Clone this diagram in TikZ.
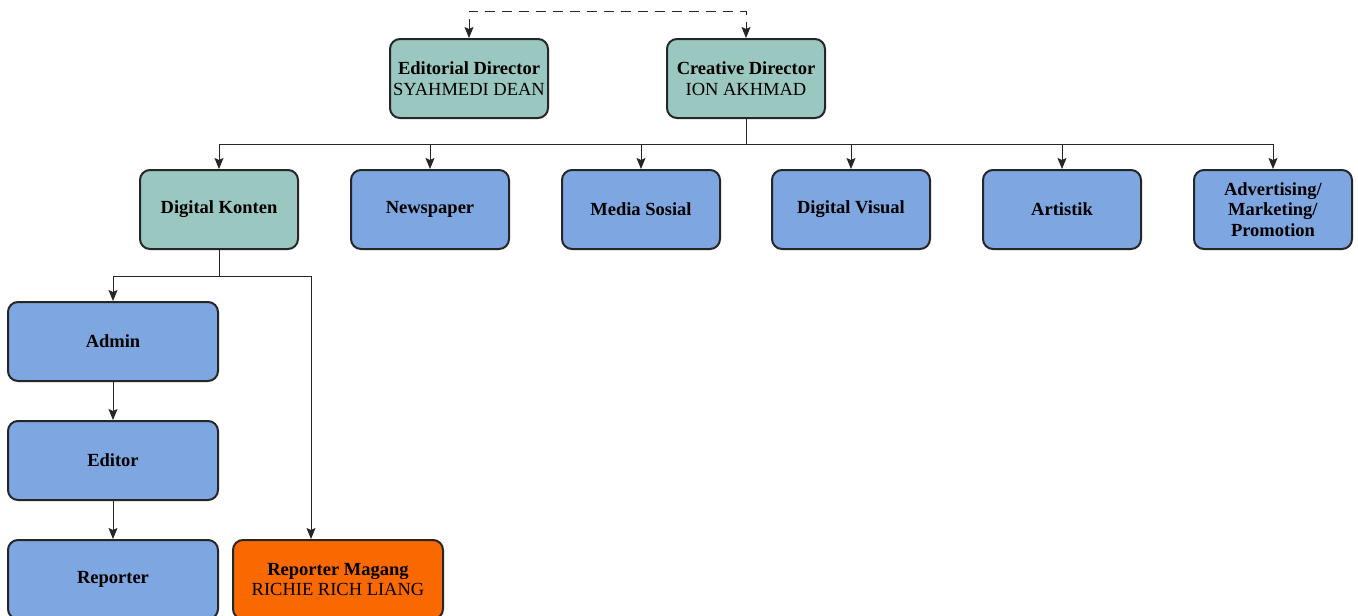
\documentclass[tikz,border=0pt]{standalone}
\usepackage{fontspec}
\setmainfont{Liberation Serif}
\usetikzlibrary{arrows.meta}
\definecolor{tealbox}{HTML}{9AC7BF}
\definecolor{bluebox}{HTML}{7EA6E0}
\definecolor{orangebox}{HTML}{FA6800}
\tikzset{
  box/.style={draw=black!85, line width=2pt, rounded corners=10pt, minimum width=158pt, minimum height=79pt, inner sep=2pt, align=center, font=\fontsize{18.5}{20.5}\selectfont, text=black},
  wbox/.style={box, minimum width=210pt},
  conn/.style={line width=1pt, draw=black!85, -{Stealth[length=11pt,width=9pt,inset=2pt]}},
  dconn/.style={line width=1pt, draw=black!85, dash pattern=on 10pt off 7pt, {Stealth[length=11pt,width=9pt,inset=2pt]}-{Stealth[length=11pt,width=9pt,inset=2pt]}}
}
\begin{document}
\begin{tikzpicture}[x=1pt,y=-1pt]
\clip (0,0) rectangle (1358,616);
\fill[white] (0,0) rectangle (1358,616);
% top row
\node[box, fill=tealbox] (ed) at (469,78.5) {\textbf{Editorial Director}\\SYAHMEDI DEAN};
\node[box, fill=tealbox] (cd) at (746,78.5) {\textbf{Creative Director}\\ION AKHMAD};
% second row
\node[box, fill=tealbox] (dk) at (219,209.5) {\textbf{Digital Konten}};
\node[box, fill=bluebox] (np) at (430,209.5) {\textbf{Newspaper}};
\node[box, fill=bluebox] (ms) at (641,209.5) {\textbf{Media Sosial}};
\node[box, fill=bluebox] (dv) at (851,209.5) {\textbf{Digital Visual}};
\node[box, fill=bluebox] (ar) at (1062,209.5) {\textbf{Artistik}};
\node[box, fill=bluebox] (am) at (1273,209.5) {\textbf{Advertising/}\\\textbf{Marketing/}\\\textbf{Promotion}};
% left column
\node[wbox, fill=bluebox] (ad) at (113,341.5) {\textbf{Admin}};
\node[wbox, fill=bluebox] (eo) at (113,460.5) {\textbf{Editor}};
\node[wbox, fill=bluebox] (rp) at (113,579.5) {\textbf{Reporter}};
\node[wbox, fill=orangebox] (rm) at (338,579.5) {\textbf{Reporter Magang}\\RICHIE RICH LIANG};
% dashed link
\draw[dconn] (ed.north) -- ++(0,-27) -| (cd.north);
% creative director to second row
\coordinate (bus) at (746,144);
\foreach \t in {dk,np,ms,dv,ar,am}{
  \draw[conn] (cd.south) -- (bus) -| (\t.north);
}
% digital konten to children
\coordinate (bus2) at (219,276);
\draw[conn] (dk.south) -- (bus2) -| (ad.north);
\draw[conn] (dk.south) -- (bus2) -| ([xshift=-27pt]rm.north);
\draw[conn] (ad.south) -- (eo.north);
\draw[conn] (eo.south) -- (rp.north);
\end{tikzpicture}
\end{document}
